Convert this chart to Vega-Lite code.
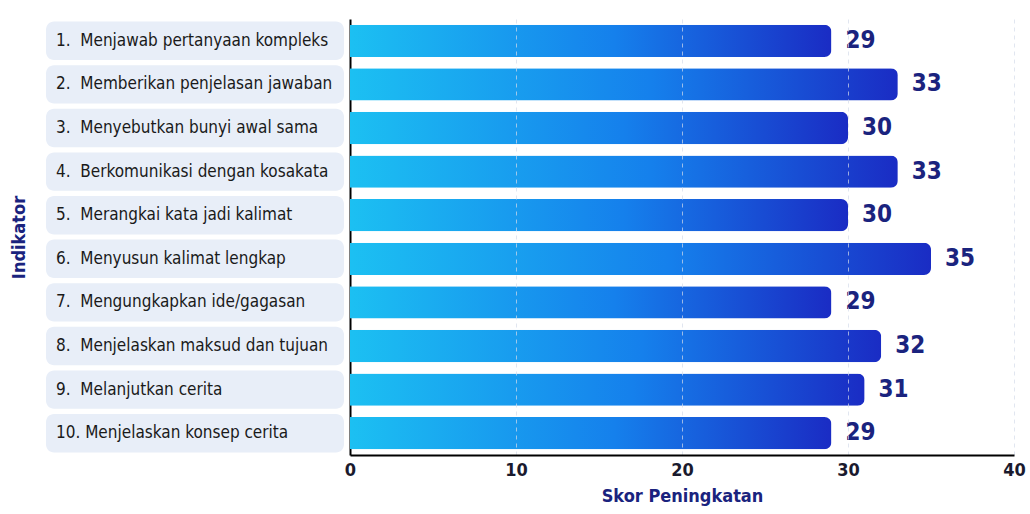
{
  "$schema": "https://vega.github.io/schema/vega-lite/v6.json",
  "background": "#ffffff",
  "padding": {"left": 10, "top": 19, "right": 5, "bottom": 5},
  "config": {"view": {"stroke": null}, "font": "DejaVu Sans Condensed"},
  "data": {"values": [
    {"label": "1.\u00a0 Menjawab pertanyaan kompleks", "score": 29},
    {"label": "2.\u00a0 Memberikan penjelasan jawaban", "score": 33},
    {"label": "3.\u00a0 Menyebutkan bunyi awal sama", "score": 30},
    {"label": "4.\u00a0 Berkomunikasi dengan kosakata", "score": 33},
    {"label": "5.\u00a0 Merangkai kata jadi kalimat", "score": 30},
    {"label": "6.\u00a0 Menyusun kalimat lengkap", "score": 35},
    {"label": "7.\u00a0 Mengungkapkan ide/gagasan", "score": 29},
    {"label": "8.\u00a0 Menjelaskan maksud dan tujuan", "score": 32},
    {"label": "9.\u00a0 Melanjutkan cerita", "score": 31},
    {"label": "10. Menjelaskan konsep cerita", "score": 29}
  ]},
  "spacing": 0,
  "resolve": {"scale": {"y": "independent"}},
  "hconcat": [
    {
      "width": 298,
      "height": 436,
      "encoding": {
        "y": {
          "field": "label", "type": "nominal", "sort": null,
          "scale": {"paddingInner": 0.12, "paddingOuter": 0.06},
          "axis": {"labels": false, "ticks": false, "domain": false, "title": "Indikator",
                   "titleFontSize": 18, "titleFont": "DejaVu Sans Condensed", "titleFontWeight": "bold",
                   "titleColor": "#1a237e", "titlePadding": 18}
        }
      },
      "layer": [
        {
          "mark": {"type": "bar", "color": "#e8eef8", "cornerRadius": 8},
          "encoding": {
            "x": {"datum": 0, "type": "quantitative", "scale": {"domain": [0, 1]}, "axis": null},
            "x2": {"datum": 1}
          }
        },
        {
          "mark": {"type": "text", "align": "left", "baseline": "middle", "dx": 10, "fontSize": 17, "color": "#1a1a1a", "font": "DejaVu Sans Condensed"},
          "encoding": {
            "x": {"datum": 0, "type": "quantitative", "scale": {"domain": [0, 1]}, "axis": null},
            "text": {"field": "label"}
          }
        }
      ]
    },
    {
      "width": 664,
      "height": 436,
      "encoding": {
        "y": {
          "field": "label", "type": "nominal", "sort": null,
          "scale": {"paddingInner": 0.26, "paddingOuter": 0.13},
          "axis": {"labels": false, "ticks": false, "title": null, "domainColor": "#000000", "domainWidth": 2}
        }
      },
      "layer": [
        {
          "mark": {"type": "bar", "cornerRadiusEnd": 7,
                   "color": {"gradient": "linear", "x1": 0, "x2": 1, "y1": 0, "y2": 0,
                             "stops": [{"offset": 0, "color": "#1cc0f2"}, {"offset": 0.55, "color": "#1580ec"}, {"offset": 1, "color": "#1a2cc4"}]}},
          "encoding": {
            "x": {
              "field": "score", "type": "quantitative",
              "scale": {"domain": [0, 40]},
              "axis": {"values": [0, 10, 20, 30, 40], "title": "Skor Peningkatan", "zindex": 1,
                       "domainColor": "#000000", "domainWidth": 2, "ticks": false,
                       "labelFont": "DejaVu Sans Condensed", "labelFontSize": 18, "labelFontWeight": "bold", "labelColor": "#1a1a2e",
                       "labelPadding": 6, "labelFlush": false,
                       "titleFont": "DejaVu Sans Condensed", "titleFontSize": 18, "titleFontWeight": "bold", "titleColor": "#1a237e",
                       "titlePadding": 8,
                       "grid": true, "gridDash": [4, 4], "gridColor": "#d4dcea",
                       "gridOpacity": {"condition": {"test": "datum.value === 0", "value": 0}, "value": 0.7}}
            }
          }
        },
        {
          "mark": {"type": "text", "align": "left", "baseline": "middle", "dx": 14, "fontSize": 24, "fontWeight": "bold", "color": "#1a237e", "font": "DejaVu Sans Condensed"},
          "encoding": {
            "x": {"field": "score", "type": "quantitative"},
            "text": {"field": "score"}
          }
        }
      ]
    }
  ]
}
